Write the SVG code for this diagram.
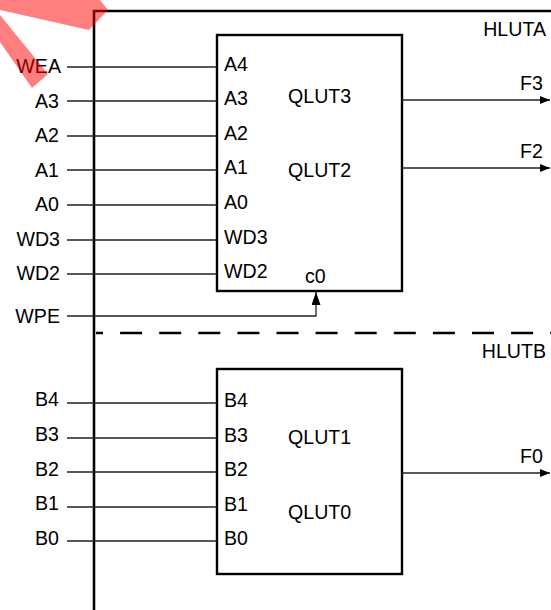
<svg xmlns="http://www.w3.org/2000/svg" width="551" height="610" viewBox="0 0 551 610">
<style>
text{font-family:"Liberation Sans",Arial,Helvetica,sans-serif;font-size:19.6px;fill:#000}
.l{text-anchor:end}
.box{fill:none;stroke:#000;stroke-width:2.4}
.w{fill:none;stroke:#222;stroke-width:1.3}
.out{fill:none;stroke:#000;stroke-width:2.6}
</style>
<defs>
<marker id="ah" markerUnits="userSpaceOnUse" markerWidth="10" markerHeight="8" refX="10" refY="4" orient="auto">
<path d="M0,0L10,4L0,8z" fill="#000"/>
</marker>
<marker id="au" markerUnits="userSpaceOnUse" markerWidth="13" markerHeight="9" refX="13" refY="4.5" orient="auto">
<path d="M0,0L13,4.5L0,9z" fill="#000"/>
</marker>
</defs>
<rect width="551" height="610" fill="#fff"/>
<g id="HLUTA">
<path class="out" d="M551,11H94V610"/>
<text x="546" y="36" text-anchor="end">HLUTA</text>
</g>
<g id="HLUTB">
<line x1="96" y1="333" x2="551" y2="333" stroke="#000" stroke-width="2.4" stroke-dasharray="22 17.1" stroke-dashoffset="15"/>
<text x="546" y="358" text-anchor="end">HLUTB</text>
</g>
<g id="lutA">
<rect class="box" x="217" y="35" width="185" height="256"/>
<text x="288" y="103">QLUT3</text>
<text x="288" y="177">QLUT2</text>
<text x="224" y="71">A4</text>
<text x="224" y="105">A3</text>
<text x="224" y="140">A2</text>
<text x="224" y="174">A1</text>
<text x="224" y="209">A0</text>
<text x="224" y="244">WD3</text>
<text x="224" y="278">WD2</text>
<text x="305" y="283">c0</text>
</g>
<g id="lutB">
<rect class="box" x="217" y="369" width="185" height="205"/>
<text x="288" y="444">QLUT1</text>
<text x="288" y="519">QLUT0</text>
<text x="224" y="407">B4</text>
<text x="224" y="442">B3</text>
<text x="224" y="476">B2</text>
<text x="224" y="511">B1</text>
<text x="224" y="545">B0</text>
</g>
<g id="inputs">
<text class="l" x="61" y="73">WEA</text>
<text class="l" x="59" y="108">A3</text>
<text class="l" x="59" y="142">A2</text>
<text class="l" x="59" y="177">A1</text>
<text class="l" x="59" y="211">A0</text>
<text class="l" x="60" y="246">WD3</text>
<text class="l" x="60" y="280">WD2</text>
<text class="l" x="60" y="323">WPE</text>
<text class="l" x="59" y="406">B4</text>
<text class="l" x="59" y="441">B3</text>
<text class="l" x="59" y="476">B2</text>
<text class="l" x="59" y="510">B1</text>
<text class="l" x="59" y="545">B0</text>
</g>
<g id="outputs">
<text x="520" y="90">F3</text>
<text x="520" y="158">F2</text>
<text x="520" y="463">F0</text>
</g>
<g id="connectors">
<path class="w" d="M67,67H217M67,101H217M67,136H217M67,170H217M67,205H217M67,240H217M67,274H217"/>
<path class="w" d="M67,403H217M67,438H217M67,472H217M67,507H217M67,541H217"/>
<path class="w" d="M67,316H316V292" marker-end="url(#au)"/>
<path class="w" d="M402,100H550" marker-end="url(#ah)"/>
<path class="w" d="M402,168H550" marker-end="url(#ah)"/>
<path class="w" d="M402,473H550" marker-end="url(#ah)"/>
</g>
<g id="highlight" fill="#ff0000" fill-opacity="0.5">
<polygon points="0,-1 99,-1 108,10 89,30 0,10"/>
<polygon points="0,15 48,74 32,88 0,42"/>
</g>
</svg>
